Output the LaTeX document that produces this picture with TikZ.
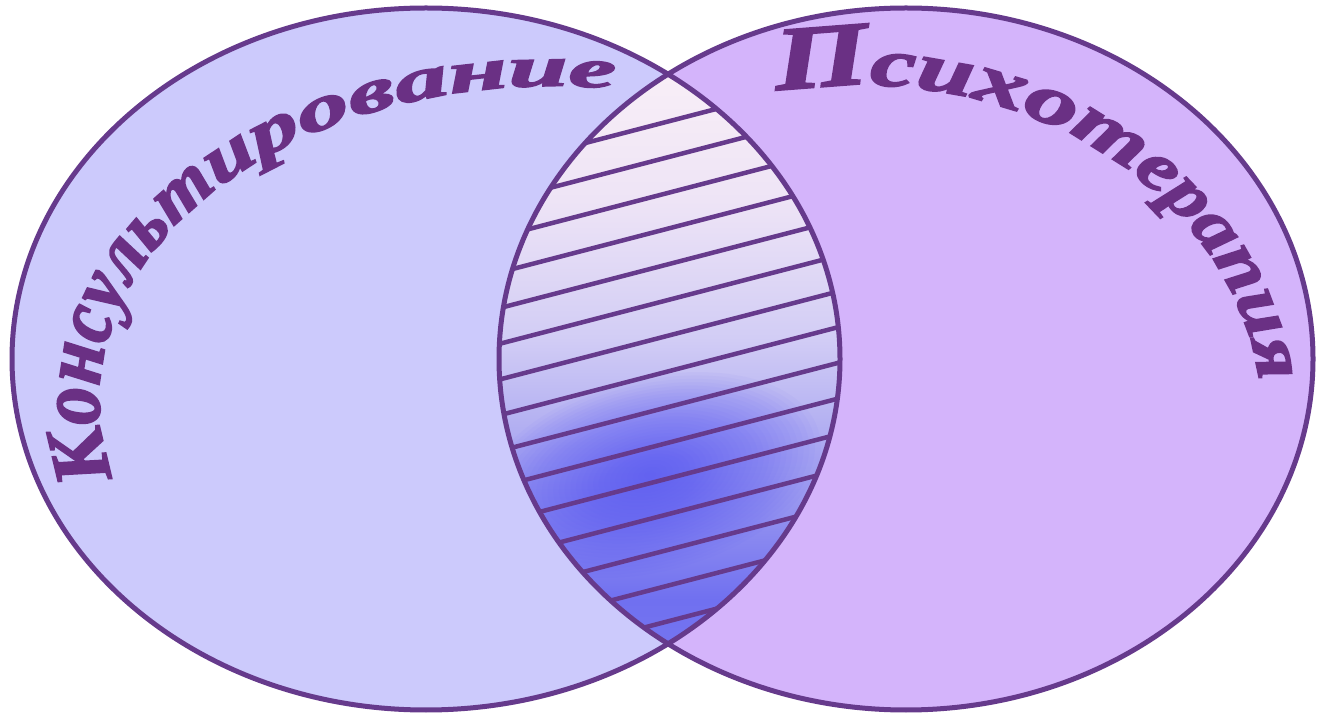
\documentclass[tikz,border=0pt]{standalone}
\usepackage{fontspec}
\setmainfont{Liberation Serif}
\newfontfamily\arcfont{Liberation Serif}[FakeBold=2.5]
\definecolor{leftfill}{RGB}{204,202,252}
\definecolor{rightfill}{RGB}{212,180,251}
\definecolor{edge}{RGB}{102,58,140}
\definecolor{ink}{RGB}{106,48,132}
\definecolor{lenstop}{RGB}{251,241,247}
\definecolor{lensupper}{RGB}{238,228,246}
\definecolor{lensmid}{RGB}{210,205,245}
\definecolor{lenslow}{RGB}{160,158,240}
\definecolor{lensdeep}{RGB}{112,112,240}
\definecolor{lensb2}{RGB}{126,126,240}
\definecolor{lensbot}{RGB}{152,152,240}
\definecolor{lensblue}{RGB}{78,78,242}
\pgfdeclareverticalshading{lensv}{100bp}{color(0bp)=(lensbot); color(4bp)=(lensbot); color(15bp)=(lensb2); color(29bp)=(lensdeep); color(39.5bp)=(lenslow); color(52bp)=(lensmid); color(64bp)=(lensupper); color(78bp)=(lenstop); color(100bp)=(lenstop)}
\tikzset{
  outline/.style={draw=edge, line width=5pt},
  hatch/.style={draw=edge, line width=4.5pt},
  lettr/.style={text=ink, inner sep=0pt, anchor=base},
}
\newbox\arcbox
\newcommand\arcmeasure[2]{%
  \pgfinterruptpicture
    \setbox\arcbox=\hbox{\fontsize{#1}{#1}\selectfont\arcfont\bfseries\itshape #2}%
    \xdef\wnat{\the\wd\arcbox}%
  \endpgfinterruptpicture
}
% #1 prefix, #2 cx, #3 cy, #4 a, #5 b, #6 start angle, #7 arc length, #8 letters
\newcommand\arcword[8]{%
  \gdef\arctot{0}%
  \foreach \lch/\lfs/\lsx in {#8} {%
    \arcmeasure{\lfs}{\lch}%
    \pgfmathsetmacro{\arct}{\arctot+\lsx*\wnat}%
    \xdef\arctot{\arct}%
  }%
  \pgfmathsetmacro{\arcfac}{#7/\arctot}%
  \xdef\arcfac{\arcfac}%
  \xdef\arccur{#6}%
  \foreach \lch/\lfs/\lsx [count=\i] in {#8} {%
    \arcmeasure{\lfs}{\lch}%
    \pgfmathsetmacro{\hw}{0.5*\arcfac*\lsx*\wnat}%
    \pgfmathsetmacro{\spd}{100*sqrt((#4/100*sin(\arccur))^2+(#5/100*cos(\arccur))^2)}%
    \pgfmathsetmacro{\phc}{\arccur-\hw/\spd*57.29578}%
    \pgfmathsetmacro{\spd}{100*sqrt((#4/100*sin(\phc))^2+(#5/100*cos(\phc))^2)}%
    \pgfmathsetmacro{\phn}{\phc-\hw/\spd*57.29578}%
    \xdef\arccur{\phn}%
    \pgfmathsetmacro{\px}{#2+#4*cos(\phc)}%
    \pgfmathsetmacro{\py}{#3+#5*sin(\phc)}%
    \pgfmathsetmacro{\rot}{atan2(-#5*cos(\phc), #4*sin(\phc))}%
    \pgfmathsetmacro{\xs}{\arcfac*\lsx}%
    \node[lettr, rotate=\rot, xscale=\xs, font={\fontsize{\lfs}{\lfs}\selectfont\arcfont\bfseries\itshape}] (#1\i) at (\px,\py) {\lch};
  }%
}
\begin{document}
\begin{tikzpicture}[x=1pt,y=1pt]
\useasboundingbox (0,0) rectangle (1317,715);
\fill[white] (0,0) rectangle (1317,715);
\coordinate (lc) at (426,356);
\coordinate (rc) at (906,356);
\fill[leftfill] (lc) ellipse [x radius=414pt, y radius=351pt];
\fill[rightfill] (rc) ellipse [x radius=407pt, y radius=351pt];
\begin{scope}
  \clip (lc) ellipse [x radius=414pt, y radius=351pt];
  \clip (rc) ellipse [x radius=407pt, y radius=351pt];
  \shade[shading=lensv] (495,70) rectangle (845,640);
  \foreach \k in {1,...,30} {
    \fill[lensblue, fill opacity=0.035, rotate around={14:(650,240)}] (650,240) ellipse [x radius={(180-5.8*\k)*1pt}, y radius={(100-3.2*\k)*1pt}];
  }
  \foreach \k in {0,...,14} {
    \draw[hatch] (470,{715-(121+35.7*\k)-52}) -- (870,{715-(121+35.7*\k)+52});
  }
\end{scope}
\draw[outline] (lc) ellipse [x radius=414pt, y radius=351pt];
\draw[outline] (rc) ellipse [x radius=407pt, y radius=351pt];
% Консультирование
\arcword{kons}{553}{315}{454}{314}{194.2}{745}{К/80/0.95, о/88/0.8, н/86/0.8, с/83/0.82, у/80/0.85, л/77/0.9, ь/74/0.95, т/72/1.0, и/69/1.2, р/66/1.4, о/63/1.55, в/61/1.6, а/60/1.65, н/58/1.7, и/57/1.75, е/55/1.8}
% Психотерапия
\arcword{psy}{860}{295}{402}{335}{101.9}{628}{П/90/1.15, с/68/1.3, и/68/1.3, х/70/1.3, о/70/1.3, т/70/1.2, е/70/1.05, р/70/1.0, а/70/1.0, п/72/1.0, и/72/1.0, я/72/1.0}
\end{tikzpicture}
\end{document}
